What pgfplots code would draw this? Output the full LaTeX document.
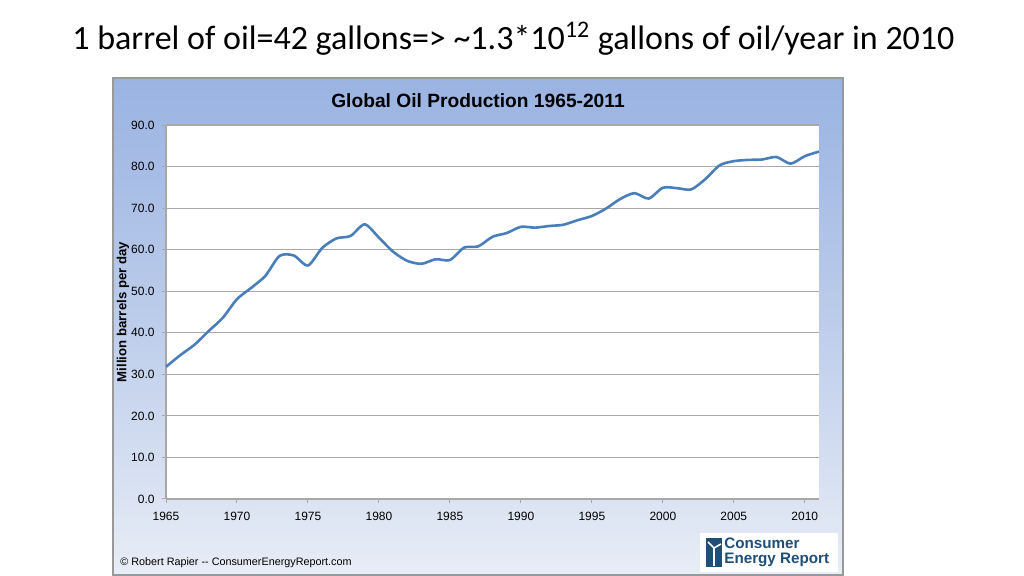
\documentclass[border=0pt]{standalone}
\usepackage{fontspec}
\setmainfont{Liberation Sans}
\newfontfamily\calibri{Carlito}
\usepackage{pgfplots}
\pgfplotsset{compat=1.18}
\definecolor{bgtop}{HTML}{9AB3E2}
\definecolor{bgbot}{HTML}{E8EDF6}
\definecolor{linec}{HTML}{4A7EBB}
\definecolor{gridc}{HTML}{A8A8A8}
\definecolor{logoc}{HTML}{1F4E79}
\begin{document}
\begin{tikzpicture}
\useasboundingbox[fill=white] (0,0) rectangle (512pt,288pt);
% slide title
\node[anchor=base, inner sep=0pt] at (256.75pt,263pt) {\calibri\fontsize{17}{20}\selectfont 1 barrel of oil=42 gallons=> \textasciitilde1.3*10\textsuperscript{12} gallons of oil/year in 2010};
% chart frame
\shade[top color=bgtop, bottom color=bgbot, middle color=bgtop!55!bgbot] (56.5pt,0.5pt) rectangle (421.5pt,249pt);
\draw[gray!80, line width=0.8pt] (56.5pt,0.5pt) rectangle (421.5pt,249pt);
\node[font=\bfseries\fontsize{9.6}{11}\selectfont] at (239pt,237.5pt) {Global Oil Production 1965-2011};
\node[rotate=90, font=\bfseries\fontsize{6.6}{8}\selectfont] at (61.5pt,132pt) {Million barrels per day};
\node[anchor=west, inner sep=0pt, font=\fontsize{5.4}{6.5}\selectfont] at (60pt,6.5pt) {\textcopyright\ Robert Rapier -{}- ConsumerEnergyReport.com};
% logo
\fill[white] (350pt,2pt) rectangle (419pt,21.5pt);
\fill[logoc] (353pt,4.5pt) rectangle (361pt,19pt);
\draw[white, line width=0.8pt] (357pt,5pt) -- (357pt,14pt) (357pt,14pt) -- (354pt,17pt) (357pt,14pt) -- (360.5pt,16pt);
\node[anchor=west, inner sep=0pt, text=logoc, align=left, font=\bfseries\fontsize{7.6}{7.6}\selectfont] at (362pt,11.75pt) {Consumer\\Energy Report};
\begin{axis}[
  at={(83pt,38.5pt)}, anchor=south west,
  scale only axis, width=326.5pt, height=187pt,
  xmin=1965, xmax=2011, ymin=0, ymax=90,
  xtick={1965,1970,...,2010}, ytick={0,10,...,90},
  axis x line*=bottom, axis y line*=left,
  axis line style={draw=gridc, -, line width=0.6pt},
  axis background/.style={fill=white},
  ymajorgrids, major grid style={draw=gridc, line width=0.6pt},
  tick align=outside, major tick length=2.2pt,
  tick style={draw=gridc, line width=0.5pt},
  tick label style={font=\fontsize{6}{7}\selectfont},
  /pgf/number format/assume math mode=true,
  xticklabel style={/pgf/number format/1000 sep={}, yshift=-1pt},
  yticklabel style={/pgf/number format/.cd, fixed, fixed zerofill, precision=1},
  clip=false,
]
\addplot[color=linec, line width=1.3pt, smooth, tension=0.45] coordinates {
(1965,31.8) (1966,34.6) (1967,37.1) (1968,40.4) (1969,43.6) (1970,48.1)
(1971,50.8) (1972,53.7) (1973,58.5) (1974,58.6) (1975,56.2) (1976,60.4)
(1977,62.7) (1978,63.3) (1979,66.1) (1980,62.9) (1981,59.5) (1982,57.3)
(1983,56.6) (1984,57.7) (1985,57.5) (1986,60.5) (1987,60.8) (1988,63.1)
(1989,64.0) (1990,65.5) (1991,65.3) (1992,65.7) (1993,66.0) (1994,67.1)
(1995,68.1) (1996,69.9) (1997,72.2) (1998,73.6) (1999,72.3) (2000,74.9)
(2001,74.8) (2002,74.5) (2003,77.0) (2004,80.3) (2005,81.3) (2006,81.6)
(2007,81.7) (2008,82.3) (2009,80.7) (2010,82.5) (2011,83.6)
};
\end{axis}
\end{tikzpicture}
\end{document}
